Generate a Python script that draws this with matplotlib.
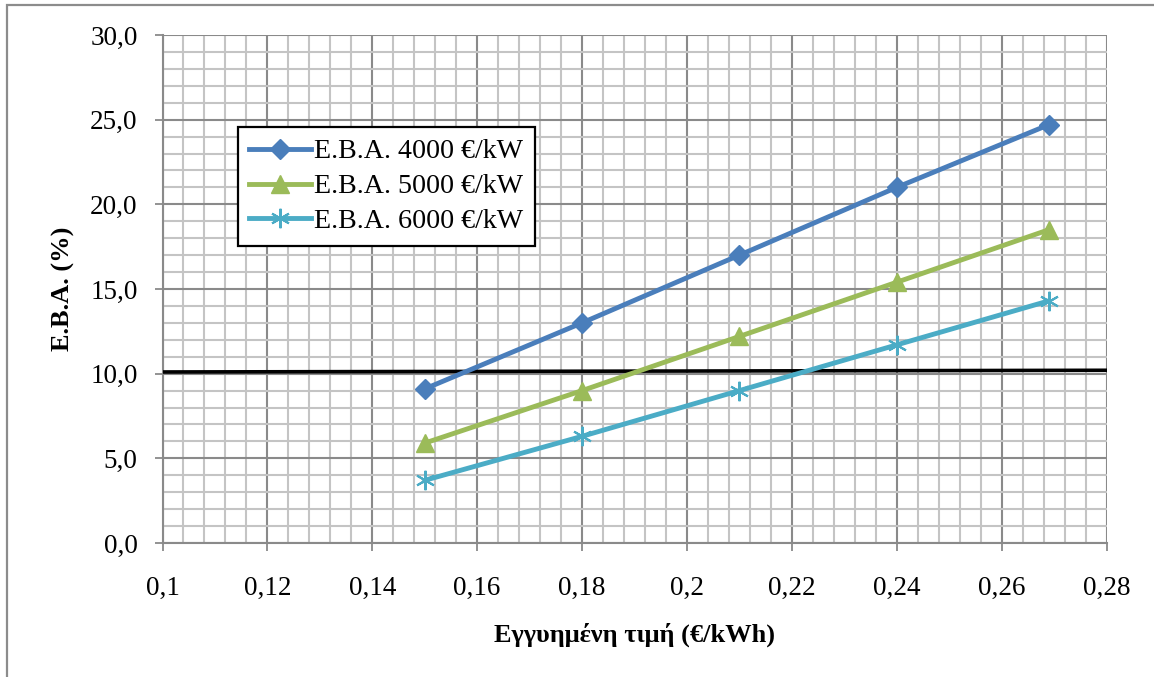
import matplotlib
matplotlib.use("Agg")
import matplotlib.pyplot as plt
from matplotlib.ticker import MultipleLocator, FuncFormatter
from matplotlib.patches import Rectangle

# Guaranteed feed-in price (€/kWh)
price = [0.15, 0.18, 0.21, 0.24, 0.269]

# IRR (%) for three installation costs
irr_4000 = [9.1, 13.0, 17.0, 21.0, 24.7]
irr_5000 = [5.9, 9.0, 12.2, 15.4, 18.5]
irr_6000 = [3.7, 6.3, 9.0, 11.7, 14.3]

labels = ["E.B.A. 4000 €/kW", "E.B.A. 5000 €/kW", "E.B.A. 6000 €/kW"]
colors = ["#4A7EBB", "#9BBB59", "#4BACC6"]

# Reference threshold line
ref_x = [0.10, 0.28]
ref_y = [10.1, 10.2]

plt.rcParams["font.family"] = ["Liberation Serif", "DejaVu Serif"]

fig = plt.figure(figsize=(11.54, 6.77), dpi=100)
ax = fig.add_axes([162.5 / 1154, 1 - 543 / 677, 944 / 1154, 508 / 677])

# Outer chart frame
fig.patches.append(Rectangle((7 / 1154, -0.1), 1.2, 1 - 5 / 677 + 0.1,
                             transform=fig.transFigure, fill=False,
                             edgecolor="#8C8C8C", linewidth=1.6))

ax.set_xlim(0.10, 0.28)
ax.set_ylim(0, 30)
ax.xaxis.set_major_locator(MultipleLocator(0.02))
ax.xaxis.set_minor_locator(MultipleLocator(0.004))
ax.yaxis.set_major_locator(MultipleLocator(5))
ax.yaxis.set_minor_locator(MultipleLocator(1))

def fmt_x(v, pos):
    s = f"{v:.2f}".rstrip("0")
    return s.replace(".", ",")

ax.xaxis.set_major_formatter(FuncFormatter(fmt_x))
ax.yaxis.set_major_formatter(FuncFormatter(lambda v, p: f"{v:.1f}".replace(".", ",")))

ax.grid(which="minor", color="#C4C4C4", linewidth=1.5, zorder=0)
ax.grid(which="major", color="#8A8A8A", linewidth=1.5, zorder=0)
ax.set_axisbelow(True)

for side in ["top", "right"]:
    ax.spines[side].set_visible(False)
for side in ["left", "bottom"]:
    ax.spines[side].set_color("#8A8A8A")
    ax.spines[side].set_linewidth(1.5)

ax.tick_params(which="major", direction="out", length=6, width=1.3,
               color="#8A8A8A", labelsize=19.5)
ax.tick_params(which="minor", length=0)
ax.tick_params(axis="x", pad=18)
ax.tick_params(axis="y", pad=12)

ax.plot(ref_x, ref_y, color="black", linewidth=2.6, zorder=3)

ax.plot(price, irr_4000, color=colors[0], linewidth=3.5, marker="D",
        markersize=10, label=labels[0], zorder=4)
ax.plot(price, irr_5000, color=colors[1], linewidth=3.5, marker="^",
        markersize=13, label=labels[1], zorder=4)
ax.plot(price, irr_6000, color=colors[2], linewidth=3.5, marker=(6, 2, 0),
        markersize=14, markeredgewidth=1.5, markeredgecolor=colors[2],
        label=labels[2], zorder=4)

ax.set_xlabel("Εγγυημένη τιμή (€/kWh)", fontsize=19, fontweight="bold", labelpad=15)
ax.set_ylabel("E.B.A. (%)", fontsize=19, fontweight="bold", labelpad=11)

leg = ax.legend(loc="upper left", bbox_to_anchor=(75 / 944, 1 - 92 / 508),
                fontsize=20.2, frameon=True, fancybox=False, framealpha=1,
                edgecolor="black", handlelength=2.2, handletextpad=0.1,
                borderpad=0.42, labelspacing=0.33, borderaxespad=0)
leg.get_frame().set_linewidth(1.6)

fig.savefig("out.png", dpi=100)
